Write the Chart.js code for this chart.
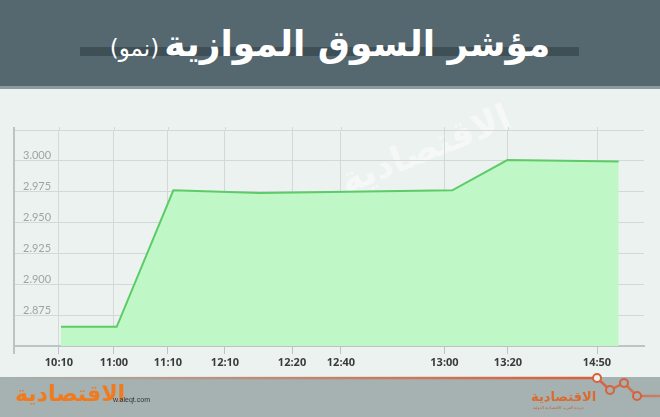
<!DOCTYPE html>
<html>
<head>
<meta charset="utf-8">
<script src="https://cdn.jsdelivr.net/npm/chart.js@4.4.1/dist/chart.umd.min.js"></script>
<style>
  html, body { margin:0; padding:0; }
  body { width:660px; height:417px; position:relative; overflow:hidden; background:#ecf2f0; font-family:"DejaVu Sans", sans-serif; }
  #header { position:absolute; left:0; top:0; width:660px; height:86px; background:#56686f; border-bottom:3px solid #8a9ba0; z-index:2; }
  #strip { position:absolute; left:80px; top:47px; width:499px; height:9px; background:#3f4f56; }
  #title { position:absolute; left:0; top:23px; width:660px; text-align:center; color:#fff; white-space:nowrap; z-index:3; }
  #title .main { font-family:"DejaVu Sans"; font-weight:bold; font-size:36px; }
  #title .sub { font-family:"DejaVu Sans"; font-size:23px; }
  #wm { position:absolute; left:335px; top:128px; color:rgba(255,255,255,0.5); font:bold 36px "DejaVu Sans"; transform:rotate(-22deg); transform-origin:center; white-space:nowrap; z-index:0; }
  #chartWrap { position:absolute; left:0; top:110px; width:660px; height:266px; z-index:1; }
  #footer { position:absolute; left:0; top:377px; width:660px; height:40px; background:#a5b2b1; z-index:2; }
  #logoL { position:absolute; left:15px; top:381px; color:#f07a1c; font:bold 22px "DejaVu Sans"; z-index:4; }
  #url { position:absolute; left:113px; top:396px; color:#333; font:7px "Liberation Sans"; z-index:4; }
  #logoR { position:absolute; left:531px; top:389px; color:#dc6a30; font:bold 13px "DejaVu Sans"; z-index:4; }
  #logoRsub { position:absolute; left:533px; top:405px; color:#c8603a; font:4px "DejaVu Sans"; z-index:4; }
  svg { position:absolute; left:0; top:0; z-index:3; }
</style>
</head>
<body>
<div id="header"><div id="strip"></div></div>
<div id="title" dir="rtl"><span class="main">مؤشر السوق الموازية</span> <span class="sub">(نمو)</span></div>
<div id="wm">الاقتصادية</div>
<div id="chartWrap"><canvas id="c" width="660" height="266"></canvas></div>
<div id="footer"></div>
<svg width="660" height="417">
  <defs>
    <linearGradient id="og" x1="0" y1="0" x2="660" y2="0" gradientUnits="userSpaceOnUse">
      <stop offset="0" stop-color="#d9603a" stop-opacity="0"/>
      <stop offset="0.5" stop-color="#d9603a" stop-opacity="0.6"/>
      <stop offset="0.9" stop-color="#d9603a" stop-opacity="1"/>
      <stop offset="1" stop-color="#d9603a" stop-opacity="0.6"/>
    </linearGradient>
  </defs>
  <polyline points="0,378 597,378 610,390 624,383 637,396 660,396" fill="none" stroke="url(#og)" stroke-width="2.5"/>
  <circle cx="597" cy="378" r="4" fill="#ecf2f0" stroke="#d9603a" stroke-width="2"/>
  <circle cx="610" cy="390" r="4" fill="#a5b2b1" stroke="#d9603a" stroke-width="2"/>
  <circle cx="624" cy="383" r="4" fill="#a5b2b1" stroke="#d9603a" stroke-width="2"/>
  <circle cx="637" cy="396" r="4" fill="#a5b2b1" stroke="#d9603a" stroke-width="2"/>
</svg>
<div id="logoL">الاقتصادية</div>
<div id="url">w.aleqt.com</div>
<div id="logoR">الاقتصادية</div>
<div id="logoRsub">جريدة العرب الاقتصادية الدولية</div>
<script>
// X tick labels and their positions along the (uneven) time axis, in % of the axis width
const xTickLabels = ['10:10','11:00','11:10','12:10','12:20','12:40','13:00','13:20','14:50'];
const xTickPos    = [7.14, 15.87, 24.44, 33.49, 44.13, 51.90, 68.33, 78.41, 92.54];
// Series: position along the axis (%) and index value (thousands of points)
const seriesX = [7.46, 16.30, 25.29, 39.05, 69.57, 78.30, 95.98];
const seriesY = [2.8655, 2.8655, 2.9761, 2.9739, 2.9761, 3.0006, 2.9994];
// Y axis range and step
const yMin = 2.850, yMax = 3.025, yStep = 0.025;
const yHidden = ['2.850', '3.025'];

const points = seriesX.map((x, i) => ({ x: x, y: seriesY[i] }));

// small overshoot of the vertical grid lines and y-axis line beyond the plot box
const overshoot = {
  id: 'overshoot',
  afterDraw(chart) {
    const { ctx, chartArea } = chart;
    const xs = chart.scales.x;
    ctx.save();
    ctx.strokeStyle = '#d2d9d7';
    ctx.lineWidth = 1;
    xs.ticks.forEach(t => {
      const px = Math.round(xs.getPixelForValue(t.value)) + 0.5;
      ctx.beginPath(); ctx.moveTo(px, chartArea.top - 3); ctx.lineTo(px, chartArea.top); ctx.stroke();
    });
    ctx.strokeStyle = '#bcc5c3';
    ctx.lineWidth = 2;
    ctx.beginPath(); ctx.moveTo(chartArea.left, chartArea.top - 3); ctx.lineTo(chartArea.left, chartArea.bottom + 8); ctx.stroke();
    ctx.restore();
  }
};

new Chart(document.getElementById('c'), {
  type: 'line',
  data: {
    datasets: [{
      data: points,
      borderColor: '#5ccb68',
      borderWidth: 2,
      backgroundColor: '#bff7c6',
      fill: 'start',
      pointRadius: 0,
      tension: 0
    }]
  },
  plugins: [overshoot],
  options: {
    responsive: false,
    devicePixelRatio: 1,
    animation: false,
    layout: { padding: { left: 14, right: 16, top: 20, bottom: 0 } },
    plugins: { legend: { display: false }, tooltip: { enabled: false } },
    scales: {
      x: {
        type: 'linear',
        min: 0, max: 100,
        afterBuildTicks: (s) => { s.ticks = xTickPos.map(v => ({ value: v })); },
        afterFit: (s) => { s.height = 30; },
        grid: { color: '#d2d9d7', lineWidth: 1, tickLength: 8, tickColor: '#bcc5c3' },
        border: { color: '#bcc5c3', width: 2 },
        ticks: {
          autoSkip: false, maxRotation: 0, padding: 2,
          color: '#3b3b3b',
          font: { family: 'Open Sans', size: 11, weight: 'bold' },
          callback: (v, i) => xTickLabels[i]
        }
      },
      y: {
        min: yMin, max: yMax,
        afterFit: (s) => { s.width = 0; },
        grid: { color: '#d2d9d7', lineWidth: 1, drawTicks: false },
        border: { color: '#bcc5c3', width: 2 },
        ticks: {
          stepSize: yStep,
          mirror: true,
          padding: 9,
          labelOffset: -5,
          color: '#9ea4a4',
          font: { family: 'Lato', size: 11 },
          callback: (v) => { const t = v.toFixed(3); return yHidden.includes(t) ? '' : t; }
        }
      }
    }
  }
});
</script>
</body>
</html>
